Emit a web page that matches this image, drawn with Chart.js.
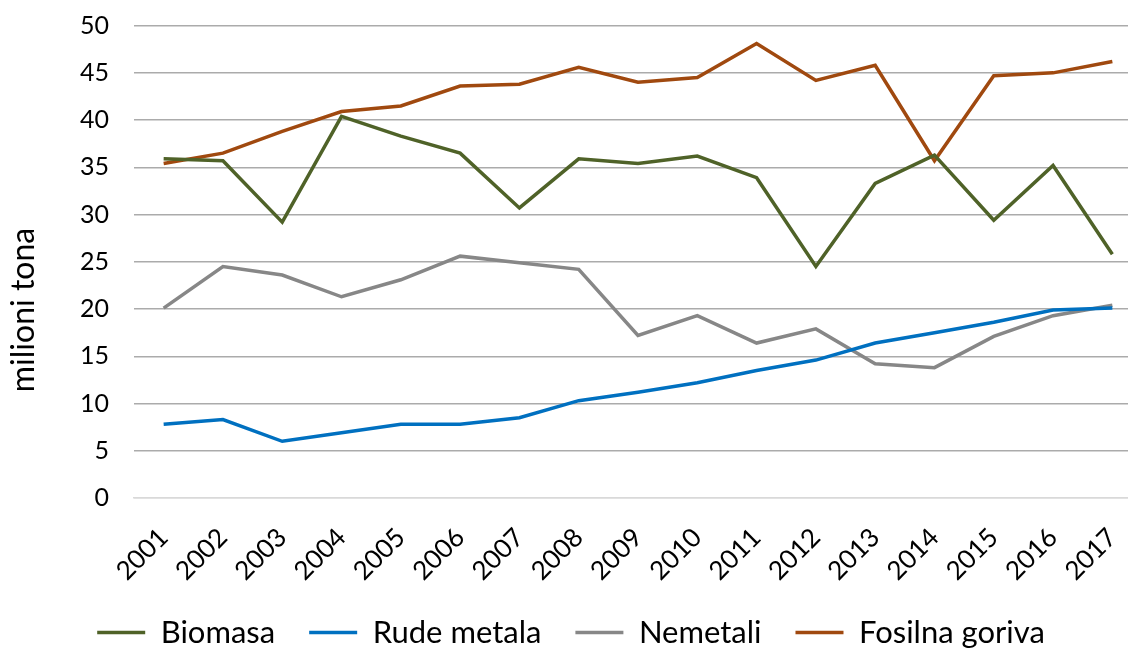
<!DOCTYPE html>
<html>
<head>
<meta charset="utf-8">
<script src="https://cdn.jsdelivr.net/npm/chart.js@4"></script>
<style>
  html, body { margin: 0; padding: 0; background: #fff; overflow: hidden; }
  #wrap { width: 1142px; height: 649px; }
</style>
</head>
<body>
<div id="wrap"><canvas id="chart" width="1142" height="649"></canvas></div>
<script>
// data
const years = ['2001','2002','2003','2004','2005','2006','2007','2008','2009','2010','2011','2012','2013','2014','2015','2016','2017'];
const biomasa = [35.9, 35.7, 29.2, 40.4, 38.3, 36.5, 30.7, 35.9, 35.4, 36.2, 33.9, 24.5, 33.3, 36.3, 29.4, 35.2, 25.8];
const rudeMetala = [7.8, 8.3, 6.0, 6.9, 7.8, 7.8, 8.5, 10.3, 11.2, 12.2, 13.5, 14.6, 16.4, 17.5, 18.6, 19.9, 20.1];
const nemetali = [20.1, 24.5, 23.6, 21.3, 23.1, 25.6, 24.9, 24.2, 17.2, 19.3, 16.4, 17.9, 14.2, 13.8, 17.1, 19.3, 20.4];
const fosilnaGoriva = [35.4, 36.5, 38.8, 40.9, 41.5, 43.6, 43.8, 45.6, 44.0, 44.5, 48.1, 44.2, 45.8, 35.7, 44.7, 45.0, 46.2];
const yMin = 0, yMax = 50, yStep = 5;
const yTitle = 'milioni tona';

const font = 'Lato, "DejaVu Sans", sans-serif';

function line(label, data, color) {
  return {
    label: label,
    data: data,
    borderColor: color,
    backgroundColor: color,
    borderWidth: 3.5,
    pointRadius: 0,
    tension: 0,
    fill: false
  };
}

// y axis title, placed a bit lower than chart.js would centre it
const yTitlePlugin = {
  id: 'yTitle',
  afterDraw(chart) {
    const c = chart.ctx;
    c.save();
    c.translate(24, 310);
    c.rotate(-Math.PI / 2);
    c.font = '32px ' + font;
    c.fillStyle = '#000';
    c.textAlign = 'center';
    c.textBaseline = 'middle';
    c.fillText(yTitle, 0, 0);
    c.restore();
  }
};

const ctx = document.getElementById('chart').getContext('2d');
const chart = new Chart(ctx, {
  type: 'line',
  data: {
    labels: years,
    datasets: [
      line('Biomasa', biomasa, '#4F6228'),
      line('Rude metala', rudeMetala, '#0070C0'),
      line('Nemetali', nemetali, '#878787'),
      line('Fosilna goriva', fosilnaGoriva, '#A0490F')
    ]
  },
  plugins: [yTitlePlugin],
  options: {
    responsive: false,
    animation: false,
    layout: { padding: { top: 0, left: 0, right: 0, bottom: -9 } },
    plugins: {
      legend: {
        position: 'bottom',
        labels: {
          usePointStyle: true,
          pointStyle: 'line',
          pointStyleWidth: 48,
          boxHeight: 4,
          padding: 34,
          color: '#000',
          font: { family: font, size: 31 }
        }
      },
      tooltip: { enabled: false }
    },
    scales: {
      x: {
        offset: true,
        afterFit: (scale) => {
          scale.height = 85;
          scale.paddingLeft = 0;
          scale.paddingRight = 0;
        },
        grid: { display: false, drawTicks: false },
        border: { display: true, color: '#d9d9d9', width: 1.5 },
        ticks: {
          color: '#000',
          minRotation: 45,
          maxRotation: 45,
          padding: 24,
          font: { family: font, size: 26 }
        }
      },
      y: {
        min: yMin,
        max: yMax,
        afterFit: (scale) => { scale.width = 134; },
        ticks: {
          stepSize: yStep,
          color: '#000',
          padding: 25,
          font: { family: font, size: 25, lineHeight: 0.05 }
        },
        grid: {
          color: (c) => c.tick && c.tick.value === 0 ? '#d9d9d9' : '#ababab',
          lineWidth: 1.5,
          drawTicks: false
        },
        border: { display: false }
      }
    }
  }
});
</script>
</body>
</html>
